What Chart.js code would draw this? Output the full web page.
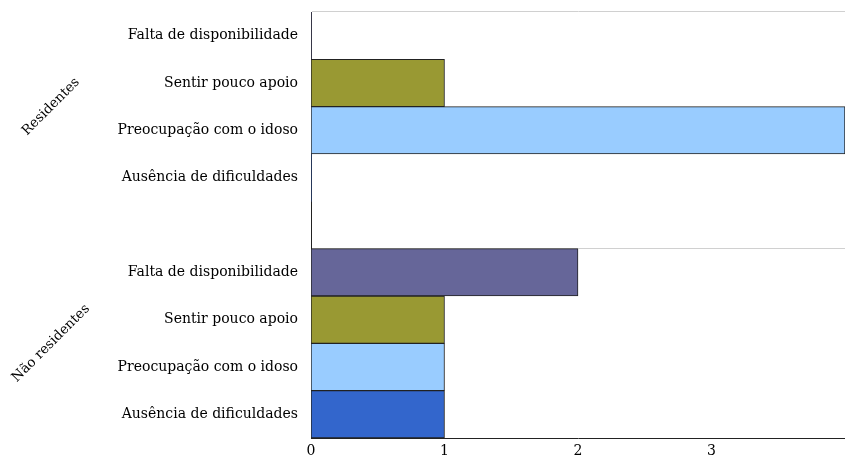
<!DOCTYPE html>
<html>
<head>
<meta charset="utf-8">
<script src="https://cdn.jsdelivr.net/npm/chart.js@4/dist/chart.umd.min.js"></script>
<style>
    html, body { margin: 0; padding: 0; background: #fff; }
    #wrap { width: 845px; height: 459px; position: relative; }
</style>
</head>
<body>
<div id="wrap"><canvas id="chart"></canvas></div>
<script>
// Chart data
const groups = ['Residentes', 'Não residentes'];
const categories = ['Falta de disponibilidade', 'Sentir pouco apoio', 'Preocupação com o idoso', 'Ausência de dificuldades'];
const residentes = [0, 1, 4, 0];
const naoResidentes = [2, 1, 1, 1];
const categoryColors = ['#666699', '#999933', '#99ccff', '#3366cc'];
const xTicks = [0, 1, 2, 3, 4];

// one empty slot separates the two groups
const labels = [...categories, '', ...categories];
const values = [...residentes, null, ...naoResidentes];
const colors = [...categoryColors, 'rgba(0,0,0,0)', ...categoryColors];
const groupRanges = [[0, 3], [5, 8]];

const serif = '"DejaVu Serif", "Liberation Serif", serif';

// Rotated group names on the left
const groupLabels = {
    id: 'groupLabels',
    afterDraw(chart) {
        const ctx = chart.ctx;
        const y = chart.scales.y;
        ctx.save();
        ctx.font = '13.5px ' + serif;
        ctx.fillStyle = '#000';
        ctx.textAlign = 'center';
        ctx.textBaseline = 'middle';
        groupRanges.forEach(function(r, i) {
            const cy = (y.getPixelForValue(r[0]) + y.getPixelForValue(r[1])) / 2;
            ctx.save();
            ctx.translate(51, cy);
            ctx.rotate(-Math.PI / 4);
            ctx.fillText(groups[i], 0, 0);
            ctx.restore();
        });
        ctx.restore();
    }
};

const chart = new Chart(document.getElementById('chart'), {
    type: 'bar',
    data: {
        labels: labels,
        datasets: [{
            data: values,
            backgroundColor: colors,
            borderColor: '#222',
            borderWidth: function(c) { return c.raw ? 1 : 0; },
            borderSkipped: false,
            categoryPercentage: 1,
            barPercentage: 1
        }]
    },
    options: {
        indexAxis: 'y',
        responsive: true,
        maintainAspectRatio: false,
        animation: false,
        layout: { padding: { top: 12, right: 0, left: 0, bottom: 0 } },
        plugins: {
            legend: { display: false },
            tooltip: { enabled: false }
        },
        scales: {
            x: {
                type: 'linear',
                min: xTicks[0],
                max: xTicks[xTicks.length - 1],
                afterBuildTicks: function(s) { s.ticks = xTicks.map(v => ({ value: v })); },
                afterFit: function(s) { s.height = 21; s.paddingLeft = 0; s.paddingRight = 0; },
                grid: { display: false, drawTicks: false },
                border: { display: true, color: '#222', width: 1 },
                ticks: {
                    color: '#000',
                    padding: 5,
                    maxRotation: 0,
                    font: { family: serif, size: 14 },
                    callback: function(v) { return v === 4 ? '' : v; }
                }
            },
            y: {
                afterFit: function(s) { s.width = 311; s.paddingTop = 0; s.paddingBottom = 0; },
                grid: {
                    offset: true,
                    drawTicks: false,
                    color: function(c) { return (c.index === 0 || c.index === 5) ? '#d0d0d0' : 'rgba(0,0,0,0)'; }
                },
                border: { display: true, color: '#222', width: 1 },
                ticks: {
                    color: '#000',
                    padding: 13,
                    font: { family: serif, size: 14 }
                }
            }
        }
    },
    plugins: [groupLabels]
});
</script>
</body>
</html>
